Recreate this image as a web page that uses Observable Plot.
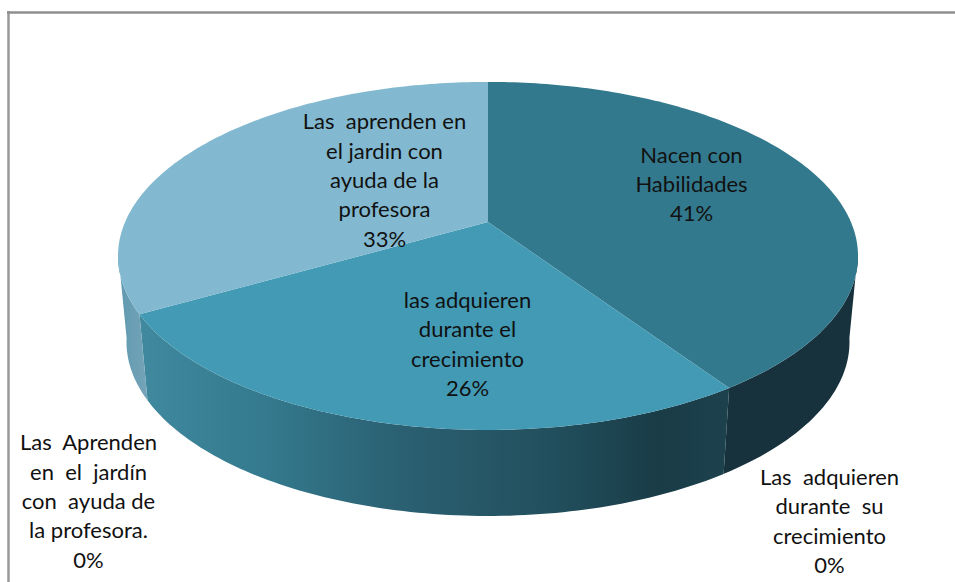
<!DOCTYPE html>
<html>
<head>
<meta charset="utf-8">
<script src="https://cdn.jsdelivr.net/npm/d3@7"></script>
<script src="https://cdn.jsdelivr.net/npm/@observablehq/plot@0.6"></script>
<style>html,body{margin:0;padding:0;background:#fff;overflow:hidden}svg{display:block}</style>
</head>
<body>
<div id="chart"></div>
<script>
// Data
const categories = [
  "Nacen con\nHabilidades",
  "las adquieren\ndurante el\ncrecimiento",
  "Las  aprenden en\nel jardin con\nayuda de la\nprofesora",
  "Las  adquieren\ndurante  su\ncrecimiento",
  "Las  Aprenden\nen  el  jardín\ncon  ayuda de\nla profesora."
];
const values = [40.6, 26.1, 33.3, 0, 0];

// Styles and layout (separate from the data)
const topColors = ["#33798d", "#429ab5", "#82b9d0"];
const wallFills = ["#17323c", "url(#wallFront)", "url(#wallLeft)"];
const labelX = [691, 467, 384, 829, 88];
const labelY = [185, 345, 181, 522, 502];
const W = 955, H = 582;
const cx = 488, cy = 222, A = 362.9, B = 167.4, k = 0.195;
const depth = 86, shrink = 0.977;
const visibleFrom = 100, visibleTo = 260;

// Perspective projection of a point on the pie's rim
function rim(deg, dy = 0, sx = 1) {
  const t = deg * Math.PI / 180, u = Math.sin(t), v = -Math.cos(t), w = 1 - k * v;
  return [cx + sx * A * u / w, cy + dy + B * v / w];
}
function sweep(a, b) {
  const out = [];
  for (let d = a; d < b; d += 1) out.push(d);
  out.push(b);
  return out;
}

const total = d3.sum(values);
let acc = 0;
const slices = values.map((v, i) => {
  const start = acc / total * 360;
  acc += v;
  return {i, start, end: acc / total * 360, v};
}).filter(s => s.v > 0);

const wallMarks = slices.map(s => {
  const a = Math.max(s.start, visibleFrom), b = Math.min(s.end, visibleTo);
  const pts = sweep(a, b).map(d => ({t: rim(d), b: rim(d, depth, shrink)}));
  return Plot.area(pts, {
    x1: p => p.t[0], y1: p => p.t[1], x2: p => p.b[0], y2: p => p.b[1],
    fill: wallFills[s.i], curve: "linear"
  });
});
const topMarks = slices.map(s => {
  const pts = sweep(s.start, s.end).map(d => rim(d));
  return Plot.area(pts, {
    x1: p => p[0], y1: p => p[1], x2: () => cx, y2: () => cy,
    fill: topColors[s.i], curve: "linear"
  });
});

const labelRows = categories.map((c, i) => ({
  text: c + "\n" + Math.round(values[i]) + "%",
  x: labelX[i], y: labelY[i]
}));

function gradient(defs, id, stops) {
  const g = defs.append("linearGradient").attr("id", id);
  stops.forEach(([o, c]) => g.append("stop").attr("offset", o).attr("stop-color", c));
}
const defsMark = () => {
  const defs = d3.create("svg:defs");
  gradient(defs, "wallFront", [[0, "#40899f"], [0.22, "#34798d"], [0.42, "#2b6274"], [0.7, "#224f5d"], [0.88, "#193c47"], [1, "#1d424e"]]);
  gradient(defs, "wallLeft", [[0, "#5f99b0"], [1, "#75a4b8"]]);
  return defs.node();
};

const chart = Plot.plot({
  width: W, height: H,
  margin: 0,
  x: {domain: [0, W], range: [0, W], axis: null},
  y: {domain: [0, H], range: [0, H], axis: null},
  style: {background: "#fff", whiteSpace: "pre"},
  marks: [
    defsMark,
    Plot.ruleX([8], {y1: 11, y2: H, stroke: "#999", strokeWidth: 2.5}),
    Plot.ruleY([12], {x1: 7, x2: W, stroke: "#8f8f8f", strokeWidth: 2.5}),
    ...wallMarks,
    ...topMarks,
    Plot.text(labelRows, {
      x: "x", y: "y", dy: -3, text: "text",
      fontFamily: "Lato", fontSize: 22, lineHeight: 1.335,
      fill: "#111", textAnchor: "middle", lineAnchor: "middle"
    })
  ]
});
document.getElementById("chart").appendChild(chart);
</script>
</body>
</html>
